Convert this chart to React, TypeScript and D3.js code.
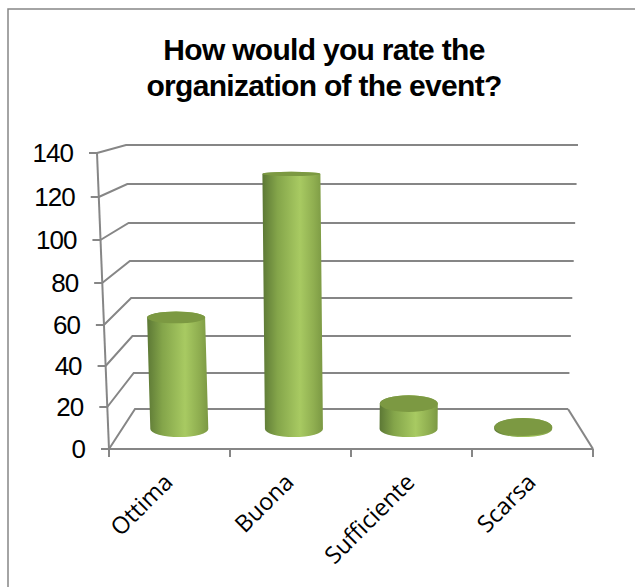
import React from "react";
import * as d3 from "d3";

const titleLines = ["How would you rate the", "organization of the event?"];
const categories = ["Ottima", "Buona", "Sufficiente", "Scarsa"];
const values = [57, 128, 13, 1];
const yTicks = [0, 20, 40, 60, 80, 100, 120, 140];
const frontTickY = [449, 407, 366, 325, 283, 240, 197, 153];
const backTickY = [409, 373, 336, 298, 261, 223, 184, 145];

const GRID = "#868686";

const frontY = d3.scaleLinear().domain(yTicks).range(frontTickY);
const backY = d3.scaleLinear().domain(yTicks).range(backTickY);
const midY = (v: number) => (frontY(v) + backY(v)) / 2;
const frontLeftX = d3.scaleLinear().domain([0, 140]).range([109, 97]);
const backLeftX = d3.scaleLinear().domain([0, 140]).range([135, 126]);
const backRightX = d3.scaleLinear().domain([0, 140]).range([568, 578]);
const catX = d3.scaleBand<string>().domain(categories).range([109, 593]);
const catMid = d3.scaleBand<string>().domain(categories).range([122, 580.5]);
const spreadAt = d3.scaleLinear().domain([121, 580]).range([-10.5, 10]);
const ry = d3.scaleLinear().domain([0, 140]).range([9, 1.5]);

function Cylinder({ cat, value }: { cat: string; value: number }) {
  const id = "g" + categories.indexOf(cat);
  const cx0 = catMid(cat)! + catMid.bandwidth() / 2;
  const cx1 = cx0 + (spreadAt(cx0) * value) / 140;
  const y0 = midY(0);
  const y1 = midY(value);
  const r = 29;
  const ry0 = 8;
  const ry1 = ry(value);
  const body = `M${cx1 - r},${y1} L${cx0 - r},${y0} A${r},${ry0} 0 0 0 ${cx0 + r},${y0} L${cx1 + r},${y1} A${r},${ry1} 0 0 0 ${cx1 - r},${y1} Z`;
  return (
    <g>
      <defs>
        <linearGradient id={id} x1="0" x2="1" y1="0" y2="0">
          <stop offset="0" stopColor="#5c7835" />
          <stop offset="0.25" stopColor="#84a54a" />
          <stop offset="0.62" stopColor="#a8ca62" />
          <stop offset="0.85" stopColor="#8fae50" />
          <stop offset="1" stopColor="#7b9843" />
        </linearGradient>
      </defs>
      <path d={body} fill={`url(#${id})`} />
      <ellipse cx={cx1} cy={y1} rx={r} ry={ry1} fill="#7c9942" />
    </g>
  );
}

export default function App() {
  return (
    <svg width={635} height={587} style={{ position: "absolute", left: 0, top: 0, background: "#fff" }}>
      <path d="M8,587 L8,9 L635,9" fill="none" stroke={GRID} strokeWidth={1.5} />
      <g fontFamily="Liberation Sans" fontWeight={700} fontSize={30} letterSpacing={-0.7} textAnchor="middle" fill="#000">
        {titleLines.map((t, i) => (
          <text key={t} x={324} y={60 + i * 36}>{t}</text>
        ))}
      </g>
      <g stroke={GRID} strokeWidth={2} fill="none">
        {yTicks.map((t) => (
          <g key={t}>
            <path d={`M${frontLeftX(t)},${frontY(t)} L${backLeftX(t)},${backY(t)} L${backRightX(t)},${backY(t)}`} />
            <line x1={frontLeftX(t) - 8} x2={frontLeftX(t)} y1={frontY(t)} y2={frontY(t)} />
          </g>
        ))}
        <line x1={frontLeftX(0)} x2={frontLeftX(140)} y1={frontY(0)} y2={frontY(140)} />
        <line x1={frontLeftX(0)} x2={593} y1={frontY(0)} y2={frontY(0)} />
        <line x1={backRightX(0)} x2={593} y1={backY(0)} y2={frontY(0)} />
        {[...categories.map((c) => catX(c)!), 593].map((x) => (
          <line key={x} x1={x} x2={x} y1={frontY(0)} y2={frontY(0) + 8} />
        ))}
      </g>
      {categories.map((c, i) => (
        <Cylinder key={c} cat={c} value={values[i]} />
      ))}
      <g fontFamily="Liberation Sans" fontSize={26} letterSpacing={-1} textAnchor="end" fill="#000">
        {yTicks.map((t) => (
          <text key={t} x={frontLeftX(t) - 24} y={frontY(t) + 9}>{t}</text>
        ))}
      </g>
      <g fontFamily="Open Sans" fontSize={23.5} textAnchor="end" fill="#000">
        {categories.map((c) => {
          const x = catX(c)! + catX.bandwidth() / 2 - 1;
          return (
            <text key={c} transform={`translate(${x},${478}) rotate(-45)`} dy={8}>{c}</text>
          );
        })}
      </g>
    </svg>
  );
}
